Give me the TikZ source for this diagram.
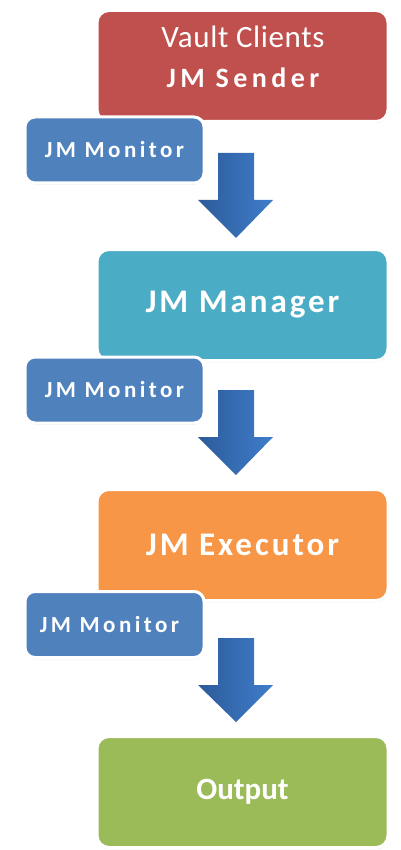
\documentclass[tikz,border=0pt]{standalone}
\usepackage{fontspec}
\setmainfont{Carlito}
\newfontfamily\monfont[LetterSpace=15]{Carlito}
\newfontfamily\bigfont[LetterSpace=9]{Carlito}
\newfontfamily\sendfont[LetterSpace=16]{Carlito}
\newfontfamily\vaultfont[LetterSpace=2]{Carlito}
\usetikzlibrary{shadows}
\definecolor{cred}{HTML}{C0504D}
\definecolor{cteal}{HTML}{4BACC6}
\definecolor{corange}{HTML}{F79646}
\definecolor{cgreen}{HTML}{9BBB59}
\definecolor{cmon}{HTML}{4F81BD}
\definecolor{arrL}{HTML}{2C5B9A}
\definecolor{arrR}{HTML}{3F7DCA}
\tikzset{
  bigbox/.style={draw=white, line width=3pt, rounded corners=12pt,
    minimum width=291pt, minimum height=111pt, text=white, align=center,
    drop shadow={shadow xshift=0.5pt, shadow yshift=-1.5pt, opacity=0.25, fill=black!60}},
  monbox/.style={draw=white, line width=3pt, rounded corners=10pt, fill=cmon,
    minimum width=179pt, minimum height=66pt, text=white,
    font=\monfont\fontsize{23}{26}\selectfont\bfseries,
    drop shadow={shadow xshift=0.5pt, shadow yshift=-1.5pt, opacity=0.25, fill=black!60}},
  blockarrow/.style={left color=arrL, right color=arrR, draw=none}
}
\begin{document}
\begin{tikzpicture}[x=1pt,y=1pt]
\useasboundingbox[fill=white] (0,0) rectangle (400,-850);
% block arrows (behind)
\foreach \t/\h/\e in {153/200/238, 390/437/475, 638/685/722}{
  \shade[blockarrow] (218,-\t) -- (254,-\t) -- (254,-\h) -- (273,-\h) -- (236,-\e)
     -- (198,-\h) -- (218,-\h) -- cycle;
}
\node[bigbox, fill=cred] (sender) at (242.5,-66) {};
\node[text=white, font=\vaultfont\fontsize{31}{36}\selectfont, anchor=base] (vault) at (243,-48) {Vault Clients};
\node[text=white, font=\sendfont\fontsize{28}{34}\selectfont\bfseries, anchor=base] (sendtxt) at (243,-88) {JM Sender};
\node[bigbox, fill=cteal, font=\bigfont\fontsize{33}{38}\selectfont\bfseries] (manager) at (242.5,-305) {JM Manager};
\node[bigbox, fill=corange, font=\bigfont\fontsize{33}{38}\selectfont\bfseries] (executor) at (242.5,-545) {JM Executor};
\node[bigbox, fill=cgreen, font=\fontsize{31}{36}\selectfont\bfseries] (output) at (242.5,-792) {Output};
\node[monbox] (mon1) at (114.5,-150) {JM Monitor};
\node[monbox] (mon2) at (114.5,-390) {JM Monitor};
\node[monbox] (mon3) at (114.5,-624.5) {JM Monitor\kern10pt};
\end{tikzpicture}
\end{document}
